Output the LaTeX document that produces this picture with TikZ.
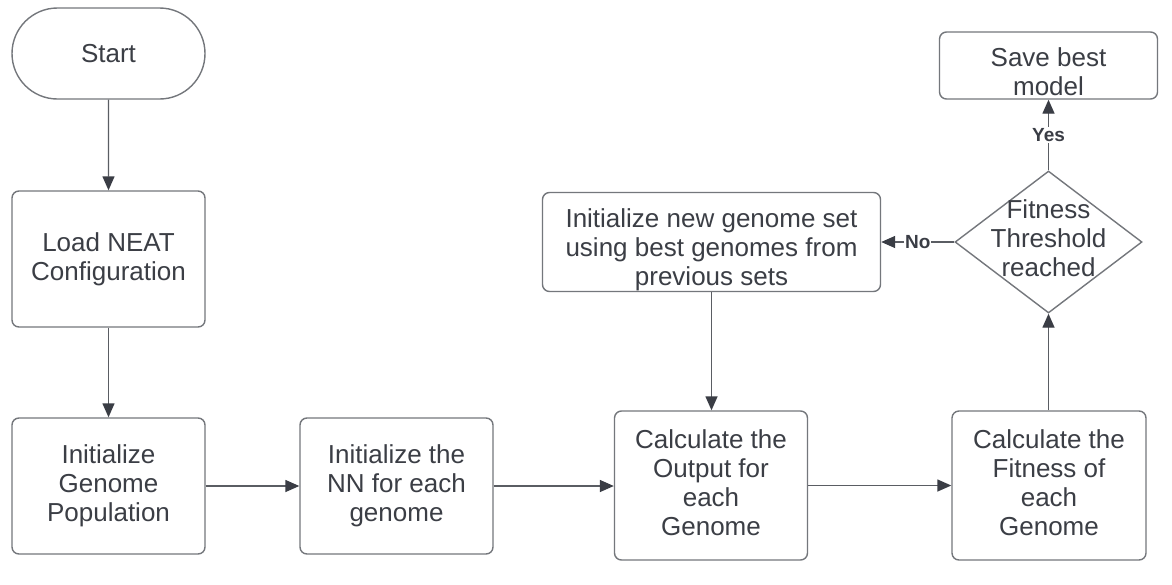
\documentclass[tikz,border=0pt]{standalone}
\usepackage{fontspec}
\setmainfont{Liberation Sans}
\usetikzlibrary{shapes.misc,shapes.geometric,arrows.meta}
\definecolor{txtc}{HTML}{3B3E45}
\definecolor{brd}{HTML}{74777C}
\definecolor{arr}{HTML}{5A5D63}
\definecolor{tipc}{HTML}{3A3D45}
\tikzset{
  box/.style={draw=brd, line width=1.4pt, rounded corners=7pt, inner sep=0pt, align=center, text=txtc,
    font=\fontsize{26}{29}\selectfont},
  term/.style={draw=brd, line width=1.4pt, rounded rectangle, inner sep=0pt, align=center, text=txtc,
    font=\fontsize{26}{29}\selectfont},
  dia/.style={draw=brd, line width=1.4pt, diamond, inner sep=0pt},
  txt/.style={inner sep=0pt, align=center, text=txtc, font=\fontsize{26}{29}\selectfont},
  conn/.style={draw=arr, line width=1.4pt, -{Triangle[length=14pt,width=12pt,color=tipc]}},
  lbl/.style={fill=white, inner sep=1pt, text=tipc, font=\fontsize{19}{21}\selectfont\bfseries}
}
\begin{document}
\begin{tikzpicture}[x=1pt,y=-1pt]
\useasboundingbox[fill=white] (0,0) rectangle (1172,584);
\node[term, minimum width=193pt, minimum height=91pt] (start) at (108.5,53.5) {Start};
\node[box, minimum width=193pt, minimum height=136pt] (load) at (108.5,259) {Load NEAT\\Configuration};
\node[box, minimum width=193pt, minimum height=136pt] (pop) at (108.5,486) {Initialize\\Genome\\Population};
\node[box, minimum width=193pt, minimum height=136pt] (nn) at (396.5,486) {Initialize the\\NN for each\\genome};
\node[box, minimum width=193pt, minimum height=149pt] (out) at (711,485.5) {};
\node[txt] at (711,483) {Calculate the\\Output for\\each\\Genome};
\node[box, minimum width=194pt, minimum height=149pt] (fit) at (1049,485.5) {};
\node[txt] at (1049,483) {Calculate the\\Fitness of\\each\\Genome};
\node[dia, minimum width=187pt, minimum height=142pt] (dec) at (1048.5,242) {};
\node[txt] at (1048.5,238) {Fitness\\Threshold\\reached};
\node[box, minimum width=338pt, minimum height=99pt] (newg) at (711.5,242) {};
\node[txt] at (711.5,250) {Initialize new genome set\\using best genomes from\\previous sets};
\node[box, minimum width=218pt, minimum height=67pt] (save) at (1048.5,65.5) {};
\node[txt] at (1048.5,72) {Save best\\model};
\draw[conn] (start) -- (load);
\draw[conn] (load) -- (pop);
\draw[conn] (pop) -- (nn);
\draw[conn] (nn.east) -- (out.west |- nn.east);
\draw[conn] (out.east) -- (fit.west);
\draw[conn] (fit.north -| dec.south) -- (dec.south);
\draw[conn] (dec.north) -- node[lbl]{Yes} (save.south -| dec.north);
\draw[conn] (dec.west) -- node[lbl]{No} (newg.east);
\draw[conn] (newg.south) -- (out.north -| newg.south);
\end{tikzpicture}
\end{document}
